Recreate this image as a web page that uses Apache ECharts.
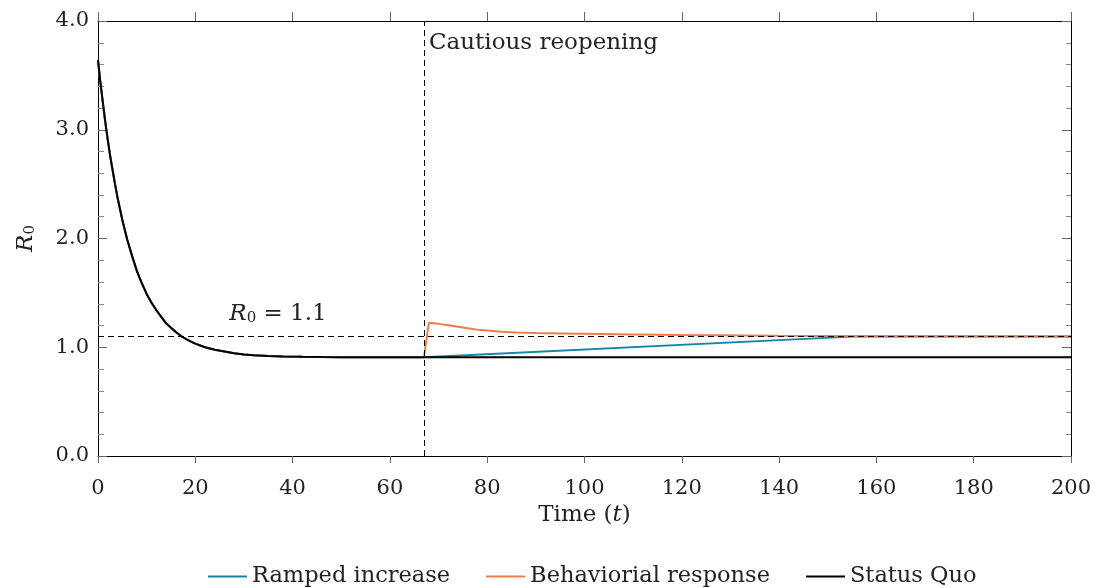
<!DOCTYPE html>
<html>
<head>
<meta charset="utf-8">
<script src="https://cdn.jsdelivr.net/npm/echarts@6/dist/echarts.min.js"></script>
<style>
  html, body { margin: 0; padding: 0; background: #fff; }
  #main { width: 1096px; height: 588px; }
</style>
</head>
<body>
<div id="main"></div>
<script>
// decay before reopening (shared by all three scenarios)
const earlyT = [0, 0.5, 1, 1.5, 2, 2.5, 3, 3.5, 4, 5, 6, 7, 8, 9, 10, 11, 12, 13, 14, 15, 16, 17, 18, 19, 20, 22, 24, 26, 28, 30, 32, 35, 38, 42, 46, 50, 55, 60, 67];
const earlyR = [3.64, 3.43, 3.25, 3.07, 2.91, 2.76, 2.63, 2.50, 2.38, 2.17, 1.99, 1.84, 1.70, 1.59, 1.49, 1.41, 1.34, 1.28, 1.22, 1.18, 1.14, 1.105, 1.078, 1.054, 1.033, 1.0, 0.977, 0.961, 0.944, 0.934, 0.927, 0.92, 0.915, 0.912, 0.91, 0.909, 0.908, 0.907, 0.907];

// status quo after reopening
const quoT = [67, 200];
const quoR = [0.907, 0.907];

// ramped increase after reopening
const rampT = [67, 156, 200];
const rampR = [0.907, 1.1, 1.1];

// behavioral response after reopening
const behavT = [67, 68, 70, 72, 74, 76, 78, 80, 83, 86, 90, 95, 100, 110, 120, 140, 160, 180, 200];
const behavR = [0.907, 1.225, 1.215, 1.202, 1.188, 1.174, 1.162, 1.153, 1.142, 1.135, 1.13, 1.127, 1.124, 1.118, 1.113, 1.106, 1.102, 1.101, 1.1];

const reopenDay = 67;
const threshold = 1.1;
const xTicks = { min: 0, max: 200, step: 20 };
const yTicks = { min: 0, max: 4, step: 1 };

const colors = ['#1686a6', '#f07c4c', '#000000'];
const font = "'DejaVu Serif', 'Liberation Serif', serif";
const fs = 21;   // tick labels
const fsText = 23; // words

const zip = (ts, rs) => ts.map((t, i) => [t, rs[i]]);
const early = zip(earlyT, earlyR);

const myChart = echarts.init(document.getElementById('main'));

const axisBase = {
  type: 'value',
  axisLine: { show: true, onZero: false, lineStyle: { color: '#000', width: 1 } },
  splitLine: { show: false },
};

myChart.setOption({
  animation: false,
  color: colors,
  textStyle: { fontFamily: font },
  grid: { left: 98, right: 25, top: 21, bottom: 132 },
  legend: {
    top: 560,
    left: 203,
    icon: 'rect',
    itemWidth: 39,
    itemHeight: 2,
    itemGap: 36,
    textStyle: { fontFamily: font, fontSize: 22.5, color: '#222' },
    data: ['Ramped increase', 'Behaviorial response', 'Status Quo'],
  },
  xAxis: [
    {
      ...axisBase,
      position: 'bottom',
      min: xTicks.min,
      max: xTicks.max,
      interval: xTicks.step,
      axisTick: { show: true, inside: false, length: 7, lineStyle: { color: '#666' } },
      axisLabel: { fontSize: fs, color: '#222', margin: 22 },
      name: '{n|Time (}{i|t}{n|)}',
      nameLocation: 'middle',
      nameGap: 40,
      nameTextStyle: {
        rich: {
          n: { fontFamily: font, fontSize: fsText, color: '#222' },
          i: { fontFamily: font, fontSize: fsText, color: '#222', fontStyle: 'italic' },
        },
      },
    },
    {
      ...axisBase,
      position: 'top',
      min: xTicks.min,
      max: xTicks.max,
      interval: xTicks.step,
      axisTick: { show: true, inside: false, length: 9, lineStyle: { color: '#666' } },
      axisLabel: { show: false },
    },
  ],
  yAxis: [
    {
      ...axisBase,
      position: 'left',
      min: yTicks.min,
      max: yTicks.max,
      interval: yTicks.step,
      axisTick: { show: true, inside: true, length: 9, lineStyle: { color: '#666' } },
      minorTick: { show: true, splitNumber: 5, length: 6, lineStyle: { color: '#888' } },
      axisLabel: { fontSize: fs, color: '#222', margin: 9, formatter: (v) => v.toFixed(1) },
      name: '{i|R}{s|0}',
      nameLocation: 'middle',
      nameRotate: 90,
      nameGap: 60,
      nameTextStyle: {
        rich: {
          i: { fontFamily: font, fontSize: fsText, color: '#222', fontStyle: 'italic' },
          s: { fontFamily: font, fontSize: 15, color: '#222', padding: [9, 0, 0, 0] },
        },
      },
    },
    {
      ...axisBase,
      position: 'right',
      min: yTicks.min,
      max: yTicks.max,
      interval: yTicks.step,
      axisTick: { show: true, inside: true, length: 9, lineStyle: { color: '#666' } },
      minorTick: { show: true, splitNumber: 5, length: 5, lineStyle: { color: '#888' } },
      axisLabel: { show: false },
    },
  ],
  series: [
    {
      name: 'Ramped increase',
      type: 'line',
      symbol: 'none',
      lineStyle: { width: 2 },
      data: early.concat(zip(rampT, rampR)),
    },
    {
      name: 'Behaviorial response',
      type: 'line',
      symbol: 'none',
      lineStyle: { width: 2 },
      data: early.concat(zip(behavT, behavR)),
    },
    {
      name: 'Status Quo',
      type: 'line',
      symbol: 'none',
      lineStyle: { width: 2 },
      data: early.concat(zip(quoT, quoR)),
      markLine: {
        silent: true,
        symbol: 'none',
        label: { show: false },
        lineStyle: { color: '#000', width: 1, type: [6, 4] },
        data: [
          [{ coord: [xTicks.min, threshold] }, { coord: [xTicks.max, threshold] }],
          [{ coord: [reopenDay, yTicks.min] }, { coord: [reopenDay, yTicks.max] }],
        ],
      },
      markPoint: {
        silent: true,
        symbol: 'circle',
        symbolSize: 0,
        data: [
          {
            coord: [reopenDay, 3.8],
            label: {
              show: true,
              position: 'right',
              distance: 5,
              formatter: 'Cautious reopening',
              fontFamily: font,
              fontSize: fsText,
              color: '#222',
            },
          },
          {
            coord: [27, 1.31],
            label: {
              show: true,
              position: 'right',
              distance: 0,
              formatter: '{i|R}{s|0}{n| = 1.1}',
              rich: {
                i: { fontFamily: font, fontSize: fsText, color: '#222', fontStyle: 'italic' },
                s: { fontFamily: font, fontSize: 15, color: '#222', padding: [10, 0, 0, 0] },
                n: { fontFamily: font, fontSize: fsText, color: '#222' },
              },
            },
          },
        ],
      },
    },
  ],
});
</script>
</body>
</html>
